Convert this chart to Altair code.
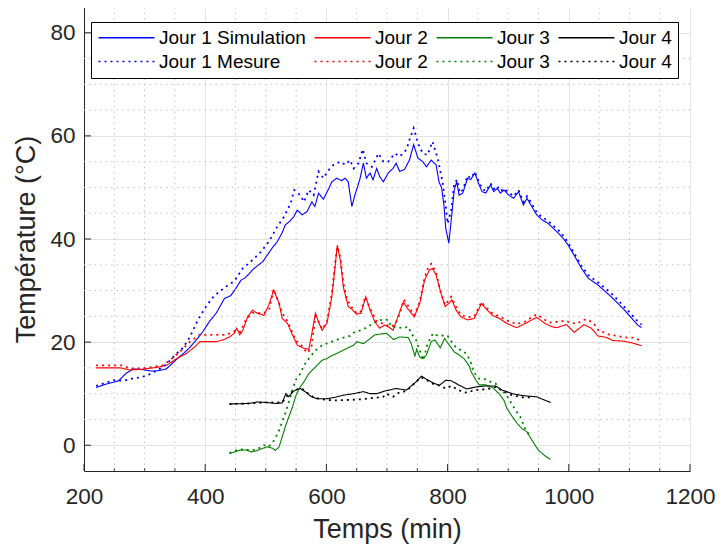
import altair as alt
import pandas as pd

FONT = "Liberation Sans"

# ---- data (minutes, °C) ----
j1_sim = [(220, 11.2), (235, 11.8), (257, 12.5), (270, 14.0), (282, 14.8), (295, 14.7), (310, 14.4),
          (320, 14.4), (336, 14.8), (345, 15.8), (355, 16.9), (365, 17.9), (375, 19.0), (386, 20.5),
          (396, 22.0), (407, 24.0), (418, 25.6), (432, 28.5), (442, 29.0), (450, 30.3), (459, 32.0),
          (465, 32.4), (472, 33.2), (478, 34.0), (486, 34.8), (495, 35.6), (505, 37.3), (512, 38.5),
          (519, 39.5), (527, 41.2), (532, 42.7), (540, 43.5), (546, 44.3), (552, 45.6), (560, 44.7),
          (568, 45.3), (576, 47.2), (581, 46.3), (587, 48.9), (595, 47.7), (604, 49.8), (609, 51.1),
          (617, 51.8), (625, 51.3), (631, 51.8), (636, 51.1), (642, 46.3), (647, 48.5), (655, 51.5),
          (661, 54.7), (666, 51.8), (672, 52.8), (677, 51.5), (683, 53.7), (688, 52.1), (694, 51.1),
          (702, 52.8), (710, 53.7), (715, 54.7), (721, 53.1), (729, 53.5), (737, 55.3), (744, 58.3),
          (751, 55.7), (759, 55.0), (765, 54.0), (773, 55.3), (781, 54.4), (786, 51.0), (790, 50.0),
          (794, 46.5), (797, 42.0), (802, 39.2), (806, 43.7), (811, 49.5), (815, 51.1), (819, 48.5),
          (825, 48.9), (833, 51.8), (838, 51.5), (845, 52.8), (852, 50.5), (857, 49.2), (863, 48.9),
          (871, 50.5), (876, 49.2), (882, 49.8), (887, 48.9), (893, 49.5), (901, 48.5), (909, 47.9),
          (917, 49.2), (925, 46.6), (931, 47.9), (939, 46.3), (947, 44.7), (956, 43.7), (966, 43.0),
          (975, 42.0), (983, 41.1), (991, 40.1), (999, 38.8), (1010, 36.6), (1021, 34.3), (1032, 32.4),
          (1048, 31.1), (1070, 28.8), (1092, 26.2), (1114, 23.3), (1120, 22.8)]

j1_mes = [(220, 11.5), (233, 12.0), (249, 12.6), (265, 12.5), (282, 13.0), (295, 13.2), (309, 13.8),
          (323, 14.7), (336, 15.7), (350, 17.5), (361, 18.6), (372, 20.4), (380, 22.3), (388, 24.3),
          (396, 25.9), (405, 27.5), (415, 29.0), (426, 30.0), (437, 31.0), (448, 31.8), (462, 34.3),
          (478, 35.9), (492, 37.5), (505, 39.5), (519, 42.4), (530, 44.3), (541, 46.9), (547, 49.5),
          (557, 48.5), (563, 47.2), (571, 49.5), (579, 48.5), (587, 53.1), (595, 51.8), (604, 53.4),
          (612, 54.4), (623, 55.0), (631, 54.4), (639, 55.3), (645, 53.7), (653, 54.7), (660, 57.4),
          (666, 54.7), (675, 54.0), (686, 56.6), (694, 55.0), (702, 55.0), (713, 56.6), (721, 56.0),
          (732, 57.3), (737, 59.2), (744, 61.5), (751, 58.6), (759, 56.6), (767, 56.3), (775, 58.9),
          (784, 55.5), (792, 50.8), (797, 46.3), (800, 43.0), (806, 45.6), (811, 50.8), (816, 51.5),
          (820, 49.0), (825, 49.5), (833, 52.3), (838, 51.8), (845, 53.0), (852, 51.0), (857, 49.8),
          (863, 49.3), (871, 50.8), (876, 49.7), (882, 50.3), (887, 49.3), (893, 49.8), (901, 49.0),
          (909, 48.3), (917, 49.5), (925, 47.2), (931, 48.3), (939, 46.8), (947, 45.2), (956, 44.2),
          (966, 43.5), (975, 42.5), (983, 41.7), (991, 40.6), (999, 39.3), (1010, 37.0), (1021, 34.8),
          (1032, 33.0), (1048, 31.6), (1070, 29.5), (1092, 26.8), (1114, 24.0), (1120, 23.4)]

j2_sim = [(220, 15.0), (260, 15.0), (276, 14.6), (293, 14.7), (320, 15.1), (336, 15.5), (353, 16.8),
          (369, 17.8), (383, 19.1), (391, 20.1), (418, 20.1), (429, 20.4), (440, 21.0), (448, 21.7),
          (452, 22.7), (457, 21.4), (462, 22.3), (470, 24.9), (478, 26.2), (486, 25.6), (497, 25.2),
          (505, 27.2), (513, 30.1), (522, 27.5), (527, 24.6), (536, 23.6), (544, 21.4), (552, 19.4),
          (563, 18.8), (571, 18.6), (576, 21.7), (582, 25.6), (587, 23.9), (593, 22.3), (601, 23.7),
          (609, 28.8), (615, 35.3), (618, 38.8), (623, 35.9), (628, 30.7), (636, 26.9), (642, 26.4),
          (650, 25.4), (657, 25.6), (665, 28.8), (672, 26.2), (680, 23.9), (688, 22.7), (696, 23.3),
          (702, 23.0), (710, 22.3), (718, 24.9), (727, 27.8), (734, 26.5), (745, 24.9), (754, 27.5),
          (762, 32.0), (770, 34.0), (775, 34.3), (781, 33.0), (789, 29.5), (796, 26.9), (802, 27.5),
          (807, 28.2), (814, 26.2), (822, 24.9), (833, 24.3), (844, 24.6), (856, 27.5), (863, 26.5),
          (874, 25.2), (885, 24.6), (898, 23.6), (914, 22.8), (928, 23.6), (947, 24.8), (961, 23.6),
          (972, 23.0), (980, 22.8), (996, 23.4), (1009, 21.9), (1025, 23.4), (1037, 22.7), (1048, 21.2),
          (1062, 20.9), (1073, 20.3), (1089, 20.2), (1103, 19.9), (1120, 19.3)]

j2_mes = [(220, 15.5), (262, 15.5), (276, 14.9), (295, 14.9), (309, 15.1), (330, 15.5), (345, 16.8),
          (358, 18.1), (375, 20.1), (391, 21.4), (418, 21.4), (435, 21.4), (451, 22.3), (458, 22.0),
          (467, 24.3), (478, 25.7), (486, 25.6), (497, 25.6), (506, 26.5), (513, 30.3), (522, 27.5),
          (527, 25.6), (536, 24.0), (549, 20.4), (560, 19.2), (568, 17.9), (575, 18.8), (582, 25.0),
          (587, 24.0), (593, 22.5), (601, 24.0), (609, 29.5), (615, 36.0), (618, 38.5), (623, 36.5),
          (628, 31.5), (634, 28.2), (645, 26.2), (650, 25.6), (657, 26.0), (664, 28.8), (672, 26.5),
          (683, 24.0), (691, 23.7), (696, 23.6), (705, 23.0), (713, 23.3), (720, 25.2), (728, 28.2),
          (735, 27.0), (745, 25.2), (754, 27.8), (762, 32.5), (768, 34.5), (773, 35.2), (781, 33.5),
          (789, 29.5), (796, 27.2), (806, 28.8), (814, 26.8), (822, 25.3), (833, 24.8), (844, 25.0),
          (856, 27.8), (863, 26.8), (874, 25.6), (885, 25.0), (898, 24.2), (914, 23.5), (928, 24.0),
          (947, 25.4), (961, 24.3), (970, 23.8), (978, 23.9), (986, 24.0), (995, 24.2), (1003, 23.7),
          (1014, 23.6), (1023, 24.3), (1031, 24.4), (1042, 23.5), (1050, 22.1), (1059, 21.9),
          (1067, 21.4), (1075, 21.3), (1084, 21.1), (1092, 20.9), (1103, 20.9), (1111, 20.7), (1119, 20.2)]

j3_sim = [(440, -1.6), (456, -1.0), (467, -0.9), (476, -1.3), (484, -1.1), (495, -0.6), (503, -0.3),
          (511, -0.6), (516, -1.0), (522, -0.3), (527, 1.6), (533, 3.9), (538, 5.5), (544, 7.4),
          (549, 9.4), (555, 11.0), (563, 12.3), (571, 13.9), (582, 15.2), (593, 16.5), (601, 16.8),
          (606, 17.2), (617, 17.8), (634, 18.8), (645, 19.4), (650, 20.1), (661, 19.7), (669, 20.4),
          (680, 21.4), (691, 21.6), (699, 21.7), (711, 20.5), (721, 21.0), (735, 20.9), (740, 19.7),
          (746, 17.3), (749, 18.6), (754, 17.1), (759, 16.8), (765, 17.5), (773, 20.1), (779, 20.4),
          (788, 18.9), (795, 20.7), (803, 19.4), (811, 18.1), (819, 17.5), (827, 16.8), (836, 15.3),
          (839, 14.2), (847, 12.6), (852, 11.7), (863, 11.7), (874, 11.2), (885, 10.0), (893, 8.7),
          (898, 7.1), (907, 5.5), (915, 4.2), (923, 3.2), (931, 2.6), (939, 1.0), (950, -1.0),
          (960, -2.0), (970, -2.8)]

j3_mes = [(440, -1.5), (456, -0.8), (470, -0.9), (484, -0.9), (497, 0.0), (505, -0.3), (514, 1.0),
          (522, 2.9), (527, 4.5), (533, 6.5), (538, 8.4), (544, 10.7), (549, 12.6), (557, 13.9),
          (563, 15.5), (571, 16.8), (582, 18.4), (593, 19.4), (609, 20.1), (623, 20.7), (639, 21.2),
          (647, 22.0), (658, 22.3), (669, 23.0), (683, 24.1), (694, 24.4), (702, 24.3), (707, 23.0),
          (716, 22.9), (727, 22.7), (735, 23.0), (740, 21.7), (748, 20.4), (754, 18.4), (760, 16.5),
          (767, 19.7), (776, 21.7), (784, 21.2), (792, 21.3), (800, 21.2), (808, 19.8), (815, 18.8),
          (825, 18.3), (832, 17.6), (838, 16.2), (843, 14.2), (852, 12.9), (860, 12.9), (871, 12.3),
          (879, 12.0), (887, 10.7), (896, 10.0), (904, 8.4), (912, 6.8), (920, 5.5), (928, 3.2),
          (937, 1.6)]

j4_sim = [(440, 8.0), (473, 8.1), (486, 8.4), (500, 8.3), (516, 8.1), (527, 8.2), (533, 10.0),
          (538, 9.4), (544, 10.3), (549, 10.7), (557, 11.0), (566, 10.3), (574, 9.5), (585, 9.0),
          (600, 9.0), (615, 9.3), (628, 9.7), (645, 10.0), (661, 10.4), (672, 10.0), (683, 10.0),
          (696, 10.5), (715, 11.0), (732, 10.7), (740, 11.5), (748, 12.3), (757, 13.4), (765, 12.8),
          (776, 12.1), (786, 11.6), (797, 12.6), (806, 12.5), (818, 11.7), (832, 10.9), (846, 11.3),
          (863, 11.5), (879, 11.5), (890, 10.7), (907, 10.0), (925, 9.6), (947, 9.4), (955, 9.0),
          (970, 8.3)]

j4_mes = [(440, 8.0), (473, 8.1), (500, 8.3), (527, 8.3), (535, 9.5), (545, 10.5), (555, 11.0),
          (562, 10.8), (570, 10.0), (580, 9.2), (600, 8.8), (617, 8.7), (640, 8.8), (656, 8.9),
          (680, 9.2), (694, 9.4), (699, 10.0), (710, 9.4), (721, 10.3), (732, 10.5), (748, 12.3),
          (756, 13.2), (766, 12.6), (776, 11.9), (789, 11.5), (797, 11.0), (806, 11.5), (817, 10.8),
          (825, 10.3), (833, 10.2), (844, 10.7), (857, 10.8), (870, 11.0), (880, 11.3), (890, 10.6),
          (906, 9.7), (923, 9.3), (940, 9.3)]

# legend keys (trailing spaces make duplicate labels unique; trimmed for display)
sim_keys = ["Jour 1 Simulation", "Jour 2", "Jour 3", "Jour 4"]
mes_keys = ["Jour 1 Mesure", "Jour 2 ", "Jour 3 ", "Jour 4 "]
day_colors = ["#0000ff", "#ff0000", "#008000", "#000000"]

x_major = [200, 400, 600, 800, 1000, 1200]
y_major = [0, 20, 40, 60, 80]
x_minor = [v for v in range(250, 1200, 50) if v % 200]
y_minor = [v for v in range(5, 86, 5) if v % 20]

# ---- build tables ----
rows_sim, rows_mes = [], []
for key, pts in zip(sim_keys, [j1_sim, j2_sim, j3_sim, j4_sim]):
    rows_sim += [{"t": t, "T": T, "series": key} for t, T in pts]
for key, pts in zip(mes_keys, [j1_mes, j2_mes, j3_mes, j4_mes]):
    rows_mes += [{"t": t, "T": T, "series": key} for t, T in pts]
df_sim = pd.DataFrame(rows_sim)
df_mes = pd.DataFrame(rows_mes)

W, H = 606, 464
AX = "#262626"

xscale = alt.Scale(domain=[200, 1200], nice=False, zero=False)
yscale = alt.Scale(domain=[-5, 85], nice=False, zero=False)
keys = sim_keys + mes_keys
color_scale = alt.Scale(domain=keys, range=day_colors + day_colors)
dash_scale = alt.Scale(domain=keys, range=[[1, 0]] * 4 + [[2, 4]] * 4)

legend = alt.Legend(
    title=None, orient="none", legendX=7, legendY=15, columns=4, direction="horizontal",
    symbolType="M-1.6,0H9.6", symbolSize=100, symbolStrokeWidth=1.5, labelOffset=43,
    labelFontSize=19, labelFont=FONT, labelColor="black", fillColor="white",
    strokeColor="black", padding=6, columnPadding=5, rowPadding=4,
    labelExpr="trim(datum.label)", symbolLimit=0, labelLimit=300,
)

xaxis = alt.Axis(values=x_major, format="d", title="Temps (min)", grid=True, gridColor="#e3e3e3",
                 ticks=False, domainColor=AX, labelColor=AX, titleColor=AX,
                 labelFont=FONT, titleFont=FONT, labelFontSize=22.5, titleFontSize=27,
                 titleFontWeight="normal", labelPadding=14, titlePadding=9, labelFlush=False)
yaxis = alt.Axis(values=y_major, format="d", title="Température (°C)", grid=True, gridColor="#e3e3e3",
                 ticks=False, domainColor=AX, labelColor=AX, titleColor=AX,
                 labelFont=FONT, titleFont=FONT, labelFontSize=22.5, titleFontSize=27,
                 titleFontWeight="normal", labelPadding=9, titlePadding=9, labelFlush=False)

X = alt.X("t:Q", scale=xscale, axis=xaxis)
Y = alt.Y("T:Q", scale=yscale, axis=yaxis)
color = alt.Color("series:N", scale=color_scale, legend=legend)
dash = alt.StrokeDash("series:N", scale=dash_scale, legend=legend)

minor_x = alt.Chart(pd.DataFrame({"t": x_minor})).mark_rule(
    color="#c4c4c4", strokeWidth=1, strokeDash=[1.5, 4]).encode(x=X)
minor_y = alt.Chart(pd.DataFrame({"T": y_minor})).mark_rule(
    color="#c4c4c4", strokeWidth=1, strokeDash=[1.5, 4]).encode(y=Y)

sim_lines = alt.Chart(df_sim).mark_line(strokeWidth=1.1, clip=True).encode(
    x=X, y=Y, color=color, strokeDash=dash)
mes_lines = alt.Chart(df_mes).mark_line(strokeWidth=1.8, clip=True).encode(
    x=X, y=Y, color=color, strokeDash=dash)

xticks = alt.Chart(pd.DataFrame({"t": x_major})).mark_rule(color=AX, strokeWidth=1).encode(
    x=X, y=alt.value(H), y2=alt.value(H - 7))
xticks_minor = alt.Chart(pd.DataFrame({"t": x_minor})).mark_rule(color=AX, strokeWidth=0.8).encode(
    x=X, y=alt.value(H), y2=alt.value(H - 3))
yticks = alt.Chart(pd.DataFrame({"T": y_major})).mark_rule(color=AX, strokeWidth=1).encode(
    y=Y, x=alt.value(0), x2=alt.value(7))

chart = alt.layer(minor_x, minor_y, sim_lines, mes_lines, xticks, xticks_minor, yticks).properties(
    width=W, height=H,
    autosize=alt.AutoSizeParams(type="none"),
    padding={"left": 76, "top": -1, "right": 26, "bottom": 74},
    background="white",
).configure_view(stroke="transparent")

chart.save("out.html", embed_options={"renderer": "svg", "actions": False})
